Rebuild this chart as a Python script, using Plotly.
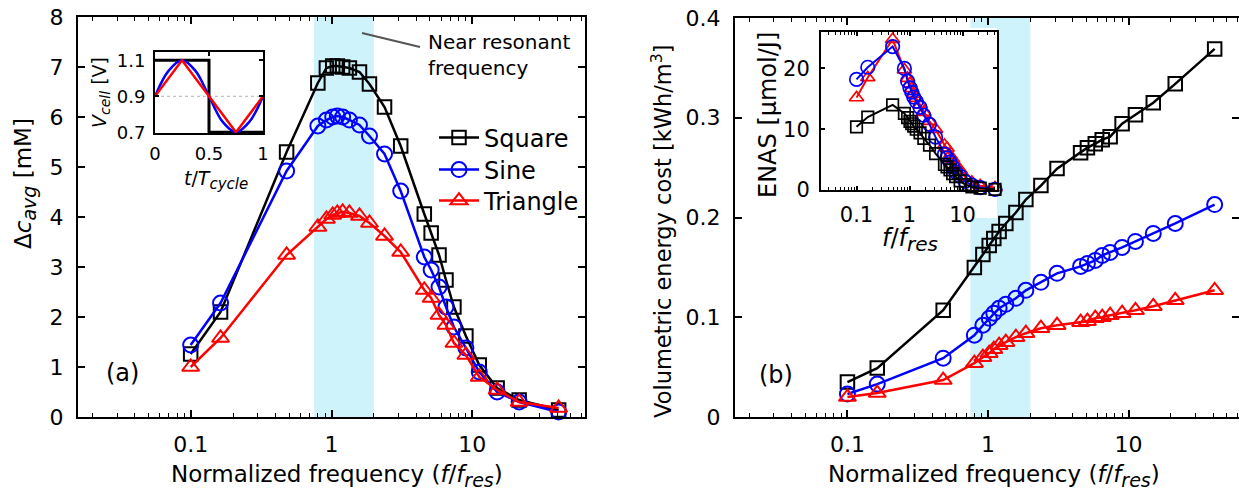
import plotly.graph_objects as go

W, H = 1239, 492
FONT = "DejaVu Sans"

# Normalized drive frequency f/f_res (shared by all series)
freq = [0.1, 0.163, 0.48, 0.8, 0.92, 1.02, 1.1, 1.2, 1.34, 1.58, 1.86, 2.38, 3.1,
        4.56, 5.1, 5.8, 6.5, 7.4, 9.0, 11.2, 15.0, 21.5, 41.0]

# (a) average concentration change [mM]
dc_square = [1.26, 2.10, 5.30, 6.68, 6.98, 7.02, 7.02, 7.00, 6.98, 6.90, 6.66, 6.20, 5.42,
             4.06, 3.68, 3.24, 2.74, 2.20, 1.62, 1.04, 0.58, 0.34, 0.14]
dc_sine = [1.44, 2.28, 4.92, 5.82, 5.94, 6.00, 6.02, 6.00, 5.94, 5.84, 5.62, 5.26, 4.52,
           3.20, 2.94, 2.60, 2.20, 1.80, 1.38, 0.90, 0.50, 0.30, 0.10]
dc_triangle = [1.00, 1.58, 3.24, 3.80, 3.96, 4.04, 4.08, 4.10, 4.08, 4.02, 3.88, 3.62, 3.30,
               2.54, 2.38, 2.04, 1.84, 1.48, 1.24, 0.80, 0.54, 0.30, 0.18]

# (b) volumetric energy cost [kWh/m^3]
e_square = [0.035, 0.049, 0.107, 0.150, 0.163, 0.172, 0.179, 0.186, 0.194, 0.205, 0.218, 0.232, 0.249,
            0.265, 0.270, 0.274, 0.278, 0.281, 0.294, 0.303, 0.315, 0.334, 0.369]
e_sine = [0.023, 0.033, 0.059, 0.082, 0.092, 0.099, 0.104, 0.109, 0.113, 0.119, 0.127, 0.135, 0.144,
          0.151, 0.154, 0.157, 0.162, 0.165, 0.170, 0.176, 0.184, 0.194, 0.213]
e_triangle = [0.020, 0.024, 0.037, 0.054, 0.060, 0.064, 0.068, 0.072, 0.075, 0.080, 0.084, 0.089, 0.092,
              0.095, 0.096, 0.099, 0.100, 0.102, 0.104, 0.107, 0.111, 0.117, 0.127]

# (b) inset: ENAS [umol/J]
enas_square = [10.4, 12.0, 14.0, 12.6, 11.9, 11.3, 10.9, 10.5, 10.0, 9.4, 8.5, 7.4, 6.0,
               4.2, 3.8, 3.3, 2.7, 2.2, 1.5, 0.9, 0.5, 0.3, 0.1]
enas_sine = [18.2, 20.2, 23.6, 20.0, 17.9, 16.8, 16.1, 15.3, 14.6, 13.6, 12.3, 10.8, 8.7,
             5.9, 5.3, 4.6, 3.8, 3.0, 2.3, 1.4, 0.8, 0.4, 0.1]
enas_triangle = [15.2, 18.5, 24.8, 19.8, 18.4, 17.5, 16.7, 15.8, 15.1, 14.0, 12.8, 11.3, 10.0,
                 7.4, 6.9, 5.7, 5.1, 4.0, 3.3, 2.1, 1.3, 0.7, 0.4]

# (a) inset: one cycle of each cell-voltage waveform
t_square = [0, 0.5, 0.5, 1]
v_square = [1.1, 1.1, 0.7, 0.7]
t_sine = [0, 0.125, 0.25, 0.375, 0.5, 0.625, 0.75, 0.875, 1]
v_sine = [0.9, 1.041, 1.1, 1.041, 0.9, 0.759, 0.7, 0.759, 0.9]
t_triangle = [0, 0.25, 0.75, 1]
v_triangle = [0.9, 1.1, 0.7, 0.9]

# near-resonant band
band = [0.75, 2.0]

BLACK, BLUE, RED = "#000000", "#0000ff", "#ff0000"
BAND = "#cff3fb"


def px_x(p):
    return p / W


def px_y(p):
    return 1 - p / H


def sub(text, size):
    # italic subscript kept close to body size
    return f"<sub><span style='font-size:{size}px'><i>{text}</i></span></sub>"


# name, colour, symbol, marker size, legend id, legend row centre (px)
styles = [
    ("Square", BLACK, "square-open", 13.5, "legend", 138),
    ("Sine", BLUE, "circle-open", 15, "legend2", 170),
    ("Triangle", RED, "triangle-up-open", 15, "legend3", 201),
]

fig = go.Figure()

# (a) main
for (name, col, sym, sz, leg, _), ys in zip(styles, [dc_square, dc_sine, dc_triangle]):
    fig.add_trace(go.Scatter(
        x=freq, y=ys, mode="lines+markers", name=name, xaxis="x", yaxis="y",
        line=dict(color=col, width=2.5),
        marker=dict(symbol=sym, size=sz, color=col, line=dict(color=col, width=2)),
        cliponaxis=False, showlegend=True, legend=leg))

# (b) main
for (name, col, sym, sz, leg, _), ys in zip(styles, [e_square, e_sine, e_triangle]):
    fig.add_trace(go.Scatter(
        x=freq, y=ys, mode="lines+markers", name=name, xaxis="x2", yaxis="y2",
        line=dict(color=col, width=2.5),
        marker=dict(symbol=sym, size=sz, color=col, line=dict(color=col, width=2)),
        cliponaxis=False, showlegend=False))

# (a) inset waveforms
fig.add_trace(go.Scatter(x=t_square, y=v_square, mode="lines", xaxis="x3", yaxis="y3",
                         line=dict(color=BLACK, width=3), showlegend=False, cliponaxis=False))
fig.add_trace(go.Scatter(x=t_sine, y=v_sine, mode="lines", xaxis="x3", yaxis="y3",
                         line=dict(color=BLUE, width=2.5, shape="spline"), showlegend=False))
fig.add_trace(go.Scatter(x=t_triangle, y=v_triangle, mode="lines", xaxis="x3", yaxis="y3",
                         line=dict(color=RED, width=2.5), showlegend=False))

# (b) inset ENAS
inset_styles = [
    (RED, "triangle-up-open", 12.5, enas_triangle),
    (BLUE, "circle-open", 13.5, enas_sine),
    (BLACK, "square-open", 11.5, enas_square),
]
for col, sym, sz, ys in inset_styles:
    fig.add_trace(go.Scatter(
        x=freq, y=ys, mode="lines+markers", xaxis="x4", yaxis="y4",
        line=dict(color=col, width=2),
        marker=dict(symbol=sym, size=sz, color=col, line=dict(color=col, width=1.7)),
        cliponaxis=False, showlegend=False))

tick_font = dict(family=FONT, size=22, color="black")


def base_axis(**kw):
    d = dict(showline=True, linecolor="black", linewidth=2, mirror="ticks",
             ticks="inside", tickcolor="black", tickwidth=1.5, ticklen=7,
             showgrid=False, zeroline=False, tickfont=tick_font)
    d.update(kw)
    return d


log_minor = dict(ticks="inside", ticklen=4, tickwidth=1, tickcolor="black", dtick="D1", showgrid=False)
inset_font = dict(family=FONT, size=18, color="black")
inset2_font = dict(family=FONT, size=21, color="black")


def legend_box(row_y):
    return dict(x=px_x(434), y=px_y(row_y), xanchor="left", yanchor="middle",
                font=dict(family=FONT, size=24, color="black"), bgcolor="rgba(0,0,0,0)",
                itemwidth=40, borderwidth=0)


fig.update_layout(
    width=W, height=H, margin=dict(l=0, r=0, t=0, b=0),
    paper_bgcolor="white", plot_bgcolor="white", template="none",
    font=dict(family=FONT, color="black"),
    xaxis=base_axis(type="log", range=[-1.8, 1.8], domain=[px_x(78), px_x(585)],
                    tickvals=[0.1, 1, 10], ticktext=["0.1", "1", "10"], minor=log_minor,
                    anchor="y", ticklabelstandoff=7),
    yaxis=base_axis(range=[0, 8], domain=[px_y(417), px_y(17)], dtick=1, anchor="x",
                    ticklabelstandoff=8),
    xaxis2=base_axis(type="log", range=[-1.8, 1.786], domain=[px_x(735), 1.0],
                     tickvals=[0.1, 1, 10], ticktext=["0.1", "1", "10"], minor=log_minor,
                     anchor="y2", ticklabelstandoff=7),
    yaxis2=base_axis(range=[0, 0.4], domain=[px_y(417), px_y(18)], anchor="x2",
                     tickvals=[0, 0.1, 0.2, 0.3, 0.4], ticktext=["0", "0.1", "0.2", "0.3", "0.4"],
                     ticklabelstandoff=8),
    xaxis3=base_axis(range=[0, 1], domain=[px_x(155), px_x(263)], anchor="y3",
                     tickvals=[0, 0.5, 1], ticktext=["0", "0.5", "1"], ticklen=4,
                     tickfont=inset_font, ticklabelstandoff=3),
    yaxis3=base_axis(range=[0.696, 1.146], domain=[px_y(133), px_y(52)], anchor="x3",
                     tickvals=[0.7, 0.9, 1.1], ticktext=["0.7", "0.9", "1.1"], ticklen=4,
                     tickfont=inset_font, ticklabelstandoff=4),
    xaxis4=base_axis(type="log", range=[-1.67, 1.65], domain=[px_x(821), px_x(997)], anchor="y4",
                     tickvals=[0.1, 1, 10], ticktext=["0.1", "1", "10"], ticklen=4,
                     minor=dict(log_minor, ticklen=3),
                     tickfont=inset2_font, ticklabelstandoff=5),
    yaxis4=base_axis(range=[0, 26], domain=[px_y(190), px_y(32)], anchor="x4",
                     tickvals=[0, 10, 20], ticktext=["0", "10", "20"], ticklen=4,
                     tickfont=inset2_font, ticklabelstandoff=5),
    legend=legend_box(styles[0][5]),
    legend2=legend_box(styles[1][5]),
    legend3=legend_box(styles[2][5]),
)

shapes = [
    dict(type="rect", xref="x", yref="y domain", x0=band[0], x1=band[1],
         y0=0, y1=1, fillcolor=BAND, line=dict(width=0), layer="below"),
    dict(type="rect", xref="x2", yref="y2 domain", x0=band[0], x1=band[1],
         y0=0, y1=1, fillcolor=BAND, line=dict(width=0), layer="below"),
    # white backing behind the ENAS inset and its labels
    dict(type="rect", xref="paper", yref="paper", x0=px_x(745), x1=px_x(997),
         y0=px_y(218), y1=px_y(28), fillcolor="white", line=dict(width=0), layer="below"),
    # V = 0.9 reference in the waveform inset
    dict(type="line", xref="x3", yref="y3", x0=0, x1=1, y0=0.9, y1=0.9,
         line=dict(color="#b0b0b0", width=1, dash="dot"), layer="below"),
    # pointer for the band label
    dict(type="line", xref="paper", yref="paper", x0=px_x(362), y0=px_y(33), x1=px_x(420), y1=px_y(47),
         line=dict(color="#555555", width=2), layer="above"),
]
fig.update_layout(shapes=shapes)


def label(text, x, y, size=21, angle=0, xanchor="center", yanchor="middle", align="center"):
    fig.add_annotation(text=text, x=px_x(x), y=px_y(y), xref="paper", yref="paper",
                       showarrow=False, textangle=angle, xanchor=xanchor, yanchor=yanchor,
                       align=align, font=dict(family=FONT, size=size, color="black"))


xtitle = "Normalized frequency (<i>f</i>/<i>f</i>" + sub("res", 19) + ")"
label(xtitle, 337, 476, size=23)
label(xtitle, 994, 476, size=23)
label("Δ<i>c</i>" + sub("avg", 19) + " [mM]", 25, 184, size=23, angle=-90)
label("Volumetric energy cost [kWh/m<sup>3</sup>]", 661, 231, size=22.5, angle=-90)
label("(a)", 122, 373, size=24)
label("(b)", 776, 375, size=24)
label("Near resonant<br>frequency", 426, 55, size=20, xanchor="left", align="left")
label("<i>V</i>" + sub("cell", 14) + " [V]", 101, 93, size=19, angle=-90)
label("<i>t</i>/<i>T</i>" + sub("cycle", 15), 216, 180, size=19)
label("ENAS [μmol/J]", 768, 115, size=24, angle=-90)
label("<i>f</i>/<i>f</i>" + sub("res", 20), 910, 240, size=24)

fig.write_html("out.html")
